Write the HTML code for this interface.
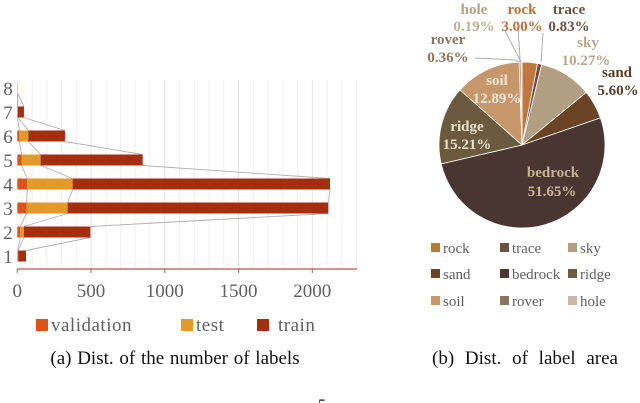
<!DOCTYPE html>
<html><head><meta charset="utf-8">
<style>
html,body{margin:0;padding:0;background:#fff;}
body{width:640px;height:403px;overflow:hidden;position:relative;}
svg{position:absolute;left:0;top:0;}
</style></head>
<body>
<svg id="chart" width="640" height="403" xmlns="http://www.w3.org/2000/svg"></svg>
<script>
const rows = [1,2,3,4,5,6,7,8];
const validation = [3,20,63,68,29,14,2,1];
const test = [3,25,278,307,129,61,1,2];
const train = [53,450,1768,1745,692,248,42,0];
const xTicks = [0,500,1000,1500,2000];

const pieLabels = ['rock','trace','sky','sand','bedrock','ridge','soil','rover','hole'];
const pieValues = [3.00,0.83,10.27,5.60,51.65,15.21,12.89,0.36,0.19];
const pieColors = ['#c0773f','#6e5040','#b39e82','#6a4424','#4a3630','#6c5a3e','#c6976b','#8c7560','#c9b7a3'];

const NS='http://www.w3.org/2000/svg';
const svg=document.getElementById('chart');
function mk(tag,attrs,parent){const e=document.createElementNS(NS,tag);for(const k in attrs)e.setAttribute(k,attrs[k]);(parent||svg).appendChild(e);return e;}
const serif='"Liberation Serif", serif';

const x0=17.3, xs=295/2000;
const X=v=>x0+v*xs;
const Y=r=>256-(r-1)*24;
const bh=11;
const bar=mk('g',{});


for(let v=100;v<=2300;v+=100){
  const g=mk('line',{x1:X(v),x2:X(v),y1:80,y2:269,stroke:v%500===0?'#e2e2e2':'#efefef','stroke-width':1},bar);
  
  
}
const cums=[validation.map(v=>v), validation.map((v,i)=>v+test[i]), validation.map((v,i)=>v+test[i]+train[i])];
cums.forEach(c=>{
  for(let i=0;i<rows.length-1;i++){
    const l=mk('line',{x1:X(c[i]),y1:Y(rows[i])-bh/2,x2:X(c[i+1]),y2:Y(rows[i+1])+bh/2,stroke:'#b0b0b0','stroke-width':0.9},bar);
    
    
  }
});
rows.forEach((r,i)=>{
  const segs=[[0,validation[i],'#d9541a','validation'],[validation[i],validation[i]+test[i],'#e39a28','test'],[validation[i]+test[i],validation[i]+test[i]+train[i],'#a52e10','train']];
  segs.forEach(s=>{
    if(s[1]-s[0]<=0)return;
    const b=mk('rect',{x:X(s[0]),y:Y(r)-bh/2,width:X(s[1])-X(s[0]),height:bh,fill:s[2]},bar);
    
    
  });
  const t=mk('text',{x:8,y:Y(r)+7,'font-family':serif,'font-size':19,fill:'#606060','text-anchor':'middle'},bar);
  t.textContent=r;
  
  
});
const ax=mk('line',{x1:X(0),x2:357,y1:269,y2:269,stroke:'#c0504d','stroke-width':1.2},bar);


xTicks.forEach(v=>{
  const tk=mk('line',{x1:X(v),x2:X(v),y1:269,y2:273,stroke:'#c0504d','stroke-width':1},bar);
  
  
  const t=mk('text',{x:X(v),y:297,'font-family':serif,'font-size':19,fill:'#606060','text-anchor':'middle'},bar);
  t.textContent=v;
  
  
});
[['validation',36,'#d9541a'],['test',181,'#e39a28'],['train',257,'#a52e10']].forEach(l=>{
  const sw=mk('rect',{x:l[1],y:319,width:12,height:12,fill:l[2]},bar);
  
  
  const t=mk('text',{x:l[1]+(l[0]==='train'?21:15),y:331,'font-family':serif,'font-size':19,fill:'#606060','letter-spacing':0.5},bar);
  t.textContent=l[0];
  
  
});

const cx=522, cy=145, R=83;
const pie=mk('g',{});


const tot=pieValues.reduce((a,b)=>a+b,0);
let a0=0;
pieValues.forEach((v,i)=>{
  const a1=a0+v/tot*Math.PI*2;
  const p=(a)=>[cx+R*Math.sin(a),cy-R*Math.cos(a)];
  const [x1,y1]=p(a0),[x2,y2]=p(a1);
  const d=`M${cx},${cy} L${x1},${y1} A${R},${R} 0 ${a1-a0>Math.PI?1:0} 1 ${x2},${y2} Z`;
  const s=mk('path',{d,fill:pieColors[i],stroke:'#fff','stroke-width':0.8},pie);
  
  
  a0=a1;
});
[[ [520,62],[520,58],[518,28] ],[ [541,62],[543,33] ],[ [519,62],[515,60],[475,58] ],[ [521,62],[505,31] ]].forEach(pts=>{
  const l=mk('polyline',{points:pts.map(q=>q.join(',')).join(' '),fill:'none',stroke:'#a6a6a6','stroke-width':0.9},pie);
  
  
});
const pl=[
 ['hole',474,14,'#b69f83'],['0.19%',474,31,'#c3ae96'],
 ['rock',522,14,'#b4713c'],['3.00%',522,31,'#b4713c'],
 ['trace',569,14,'#6a5242'],['0.83%',569,31,'#6a5242'],
 ['rover',448,44,'#8c7560'],['0.36%',448,62,'#8c7560'],
 ['sky',588,47,'#b9a58a'],['10.27%',586,65,'#b9a58a'],
 ['sand',617,77,'#5a3d24'],['5.60%',618,95,'#5a3d24'],
 ['soil',497,85,'#f3e6d8'],['12.89%',497,103,'#f3e6d8'],
 ['ridge',467,131,'#e8dccb'],['15.21%',467,149,'#e8dccb'],
 ['bedrock',553,177,'#c9b394'],['51.65%',552,196,'#c9b394']];
pl.forEach(l=>{
  const t=mk('text',{x:l[1],y:l[2],'font-family':serif,'font-size':15,'font-weight':'bold',fill:l[3],'text-anchor':'middle'},pie);
  t.textContent=l[0];
  
  
});
const lx=[431,500,568], ly=[248,274,301];
pieLabels.forEach((n,i)=>{
  const x=lx[i%3], y=ly[Math.floor(i/3)];
  const sw=mk('rect',{x:x,y:y-5,width:9,height:9,fill:pieColors[i]},pie);
  
  
  const t=mk('text',{x:x+12,y:y+5,'font-family':serif,'font-size':15,fill:'#606060'},pie);
  t.textContent=n;
  
  
});

[['(a) Dist. of the number of labels',175,19,1],['(b) Dist. of label area',525,19,6]].forEach(c=>{
  const t=mk('text',{x:c[1],y:364,'font-family':serif,'font-size':c[2],fill:'#111','text-anchor':'middle','word-spacing':c[3]});
  t.textContent=c[0];
  
  
});
const pg=mk('text',{x:322,y:410,'font-family':serif,'font-size':16,fill:'#111','text-anchor':'middle'});
pg.textContent='5';


</script>
</body></html>
